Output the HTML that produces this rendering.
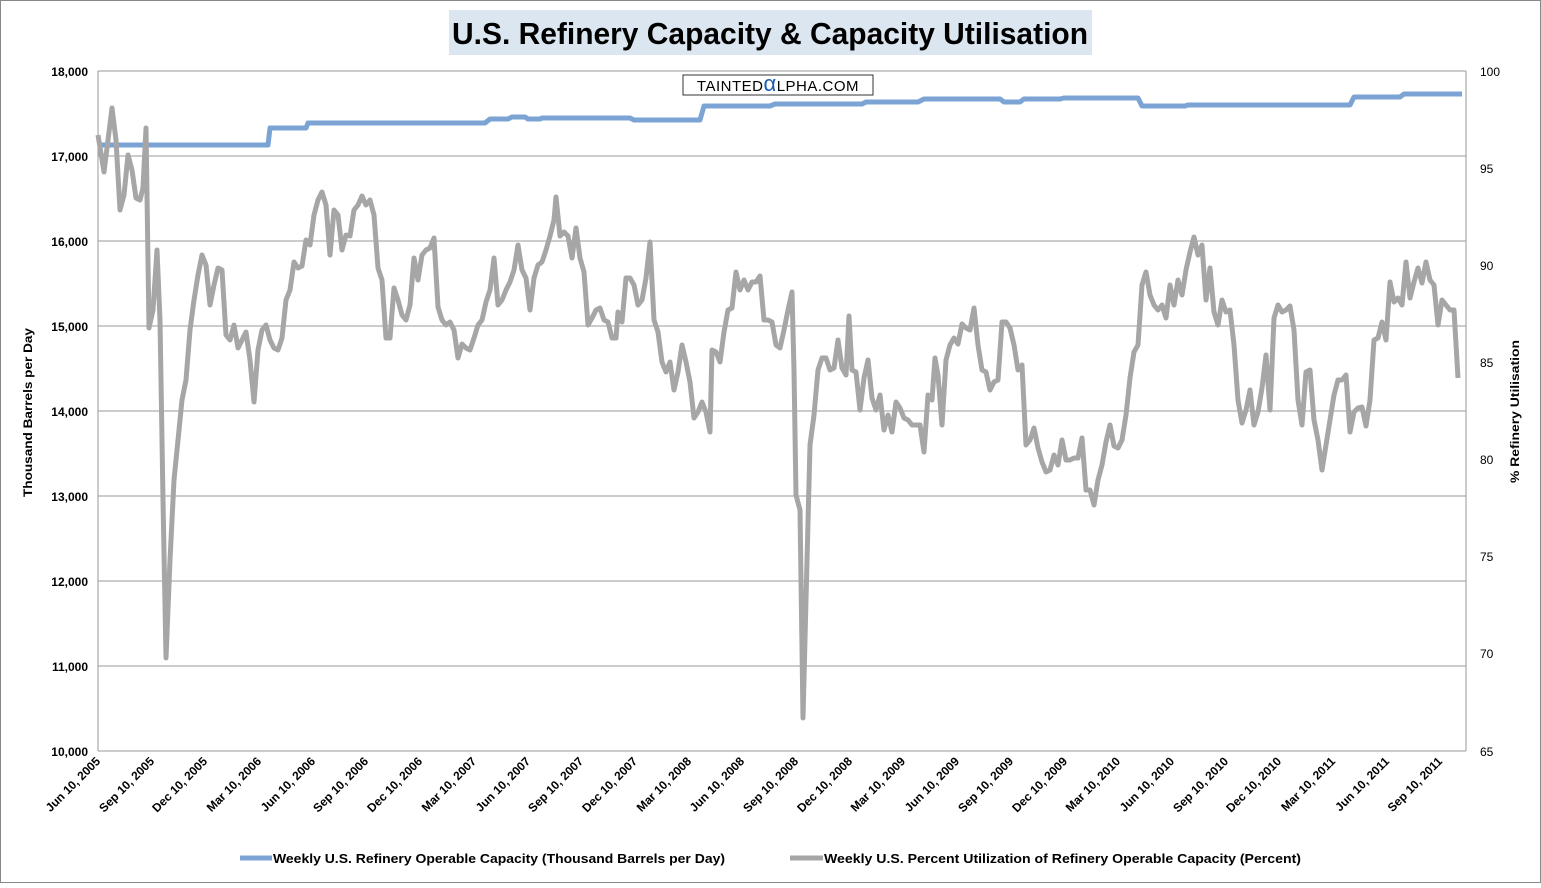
<!DOCTYPE html>
<html><head><meta charset="utf-8"><style>
body{margin:0;background:#fff;}
svg text{font-family:"Liberation Sans",sans-serif;}
</style></head><body>
<svg width="1541" height="883" xmlns="http://www.w3.org/2000/svg">
<rect x="0.5" y="0.5" width="1540" height="882" fill="#fff" stroke="#888"/>
<rect x="449" y="10" width="643" height="45" fill="#dce6f1"/>
<text x="452" y="44" font-size="31" font-weight="bold" fill="#000" textLength="636" lengthAdjust="spacingAndGlyphs">U.S. Refinery Capacity &amp; Capacity Utilisation</text>
<g stroke="#999" stroke-width="1">
<line x1="98" y1="71" x2="1466" y2="71"/><line x1="98" y1="156" x2="1466" y2="156"/>
<line x1="98" y1="241" x2="1466" y2="241"/><line x1="98" y1="326" x2="1466" y2="326"/>
<line x1="98" y1="411" x2="1466" y2="411"/><line x1="98" y1="496" x2="1466" y2="496"/>
<line x1="98" y1="581" x2="1466" y2="581"/><line x1="98" y1="666" x2="1466" y2="666"/>
<line x1="98" y1="751" x2="1466" y2="751"/>
<line x1="98" y1="71" x2="98" y2="751"/><line x1="1466" y1="71" x2="1466" y2="751"/>
</g>
<rect x="683" y="75" width="190" height="20" fill="#fff" stroke="#333"/>
<text x="778" y="91" text-anchor="middle" font-size="15" fill="#000" letter-spacing="0.5">TAINTED<tspan fill="#1a5fb4" font-size="22">α</tspan>LPHA.COM</text>
<g font-size="12" font-weight="bold" text-anchor="end" fill="#000">
<text x="88" y="76">18,000</text><text x="88" y="161">17,000</text><text x="88" y="246">16,000</text>
<text x="88" y="331">15,000</text><text x="88" y="416">14,000</text><text x="88" y="501">13,000</text>
<text x="88" y="586">12,000</text><text x="88" y="671">11,000</text><text x="88" y="756">10,000</text>
</g>
<g font-size="12" fill="#000">
<text x="1480" y="76">100</text><text x="1480" y="173">95</text><text x="1480" y="270">90</text>
<text x="1480" y="367">85</text><text x="1480" y="464">80</text><text x="1480" y="561">75</text>
<text x="1480" y="658">70</text><text x="1480" y="756">65</text>
</g>
<text transform="translate(32,497) rotate(-90)" font-size="12" font-weight="bold" textLength="169" lengthAdjust="spacingAndGlyphs">Thousand Barrels per Day</text>
<text transform="translate(1519,483) rotate(-90)" font-size="12" font-weight="bold" textLength="143" lengthAdjust="spacingAndGlyphs">% Refinery Utilisation</text>
<g font-size="12" font-weight="bold" text-anchor="end">
<text transform="translate(101,762) rotate(-45)">Jun 10, 2005</text>
<text transform="translate(155,762) rotate(-45)">Sep 10, 2005</text>
<text transform="translate(208,762) rotate(-45)">Dec 10, 2005</text>
<text transform="translate(262,762) rotate(-45)">Mar 10, 2006</text>
<text transform="translate(316,762) rotate(-45)">Jun 10, 2006</text>
<text transform="translate(369,762) rotate(-45)">Sep 10, 2006</text>
<text transform="translate(423,762) rotate(-45)">Dec 10, 2006</text>
<text transform="translate(477,762) rotate(-45)">Mar 10, 2007</text>
<text transform="translate(531,762) rotate(-45)">Jun 10, 2007</text>
<text transform="translate(584,762) rotate(-45)">Sep 10, 2007</text>
<text transform="translate(638,762) rotate(-45)">Dec 10, 2007</text>
<text transform="translate(692,762) rotate(-45)">Mar 10, 2008</text>
<text transform="translate(745,762) rotate(-45)">Jun 10, 2008</text>
<text transform="translate(799,762) rotate(-45)">Sep 10, 2008</text>
<text transform="translate(853,762) rotate(-45)">Dec 10, 2008</text>
<text transform="translate(906,762) rotate(-45)">Mar 10, 2009</text>
<text transform="translate(960,762) rotate(-45)">Jun 10, 2009</text>
<text transform="translate(1014,762) rotate(-45)">Sep 10, 2009</text>
<text transform="translate(1068,762) rotate(-45)">Dec 10, 2009</text>
<text transform="translate(1121,762) rotate(-45)">Mar 10, 2010</text>
<text transform="translate(1175,762) rotate(-45)">Jun 10, 2010</text>
<text transform="translate(1229,762) rotate(-45)">Sep 10, 2010</text>
<text transform="translate(1282,762) rotate(-45)">Dec 10, 2010</text>
<text transform="translate(1336,762) rotate(-45)">Mar 10, 2011</text>
<text transform="translate(1390,762) rotate(-45)">Jun 10, 2011</text>
<text transform="translate(1443,762) rotate(-45)">Sep 10, 2011</text>
</g>
<polyline fill="none" stroke="#7ba3d4" stroke-width="5" stroke-linejoin="round" points="98,145 268,145 270,128 306,128 308,123 485,123 490,119 508,119 512,117 525,117 528,119 540,119 542,118 630,118 634,120 700,120 704,106 770,106 775,104 862,104 866,102 918,102 924,99 1000,99 1004,102 1020,102 1024,99 1060,99 1064,98 1138,98 1142,106 1185,106 1188,105 1350,105 1354,97 1400,97 1404,94 1462,94"/>
<polyline fill="none" stroke="#a6a6a6" stroke-width="5" stroke-linejoin="round" points="98,135 104,172 108,140 112,108 116,140 120,210 124,195 128,155 132,170 136,198 140,200 143,188 146,128 149,328 153,310 157,250 160,320 163,500 166,658 170,560 174,480 178,440 182,400 186,380 190,330 194,300 198,275 202,255 206,265 210,305 214,285 218,268 222,270 226,335 230,340 234,325 238,348 242,340 246,332 250,360 254,402 258,350 262,330 266,325 270,340 274,348 278,350 282,338 286,300 290,290 294,262 298,268 302,266 306,240 310,245 314,215 318,200 322,192 326,205 330,255 334,210 338,215 342,250 346,235 350,236 354,210 358,205 362,196 366,205 370,200 374,215 378,268 382,280 386,338 390,338 394,288 398,300 402,315 406,320 410,305 414,258 418,280 422,255 426,250 430,248 434,238 438,307 442,320 446,325 450,322 454,330 458,358 462,344 466,348 470,350 474,338 478,325 482,320 486,302 490,290 494,258 498,305 502,300 506,290 510,282 514,270 518,245 522,270 526,278 530,310 534,278 538,265 542,262 546,250 550,236 554,220 556,197 560,236 564,232 568,236 572,258 576,228 580,258 584,272 588,325 592,318 596,310 600,308 604,320 608,322 612,338 616,338 618,312 622,322 626,278 630,278 634,285 638,305 642,300 646,278 650,242 654,320 658,332 662,362 666,372 670,362 674,390 678,372 682,345 686,362 690,382 694,418 698,412 702,402 706,412 710,432 712,350 716,352 720,362 724,332 728,310 732,308 736,272 740,290 744,280 748,290 752,282 756,282 760,276 764,320 768,320 772,322 776,345 780,348 784,330 788,310 792,292 794,370 796,495 800,510 803,718 806,600 810,445 814,415 818,370 822,358 826,358 830,370 834,368 838,340 842,368 846,375 849,316 852,370 856,372 860,410 864,378 868,360 872,398 876,410 880,395 884,430 888,415 892,432 896,402 900,408 904,418 908,420 912,425 916,425 920,425 924,452 928,395 932,400 935,358 938,375 942,425 946,360 950,345 954,338 958,344 962,324 966,328 970,330 974,308 978,345 982,370 986,372 990,390 994,382 998,380 1002,322 1006,322 1010,328 1014,345 1018,370 1022,365 1026,445 1030,440 1034,428 1038,448 1042,462 1046,472 1050,470 1054,455 1058,465 1062,440 1066,460 1070,460 1074,458 1078,458 1082,438 1086,490 1090,490 1094,505 1098,480 1102,465 1106,442 1110,425 1114,446 1118,448 1122,440 1126,415 1130,378 1134,352 1138,345 1142,285 1146,272 1150,295 1154,305 1158,310 1162,305 1166,318 1170,285 1174,305 1178,280 1182,295 1186,270 1190,252 1194,237 1198,255 1202,245 1206,300 1210,268 1214,312 1218,325 1222,300 1226,312 1230,310 1234,345 1238,400 1242,423 1246,410 1250,390 1254,425 1258,412 1262,388 1266,355 1270,410 1274,318 1278,305 1282,312 1286,310 1290,306 1294,330 1298,400 1302,425 1306,372 1310,370 1314,420 1318,440 1322,470 1326,445 1330,420 1334,395 1338,380 1342,380 1346,375 1350,432 1354,412 1358,408 1362,407 1366,426 1370,400 1374,340 1378,338 1382,322 1386,340 1390,282 1394,302 1398,298 1402,305 1406,262 1410,298 1414,282 1418,268 1422,283 1426,262 1430,280 1434,285 1438,325 1442,300 1446,305 1450,310 1454,310 1458,378"/>
<line x1="240" y1="858" x2="272" y2="858" stroke="#7ba3d4" stroke-width="5"/>
<text x="273" y="863" font-size="13" font-weight="bold" textLength="452" lengthAdjust="spacingAndGlyphs">Weekly U.S. Refinery Operable Capacity  (Thousand Barrels per Day)</text>
<line x1="790" y1="858" x2="823" y2="858" stroke="#a6a6a6" stroke-width="5"/>
<text x="824" y="863" font-size="13" font-weight="bold" textLength="477" lengthAdjust="spacingAndGlyphs">Weekly U.S. Percent Utilization of Refinery Operable Capacity  (Percent)</text>
</svg>
</body></html>
